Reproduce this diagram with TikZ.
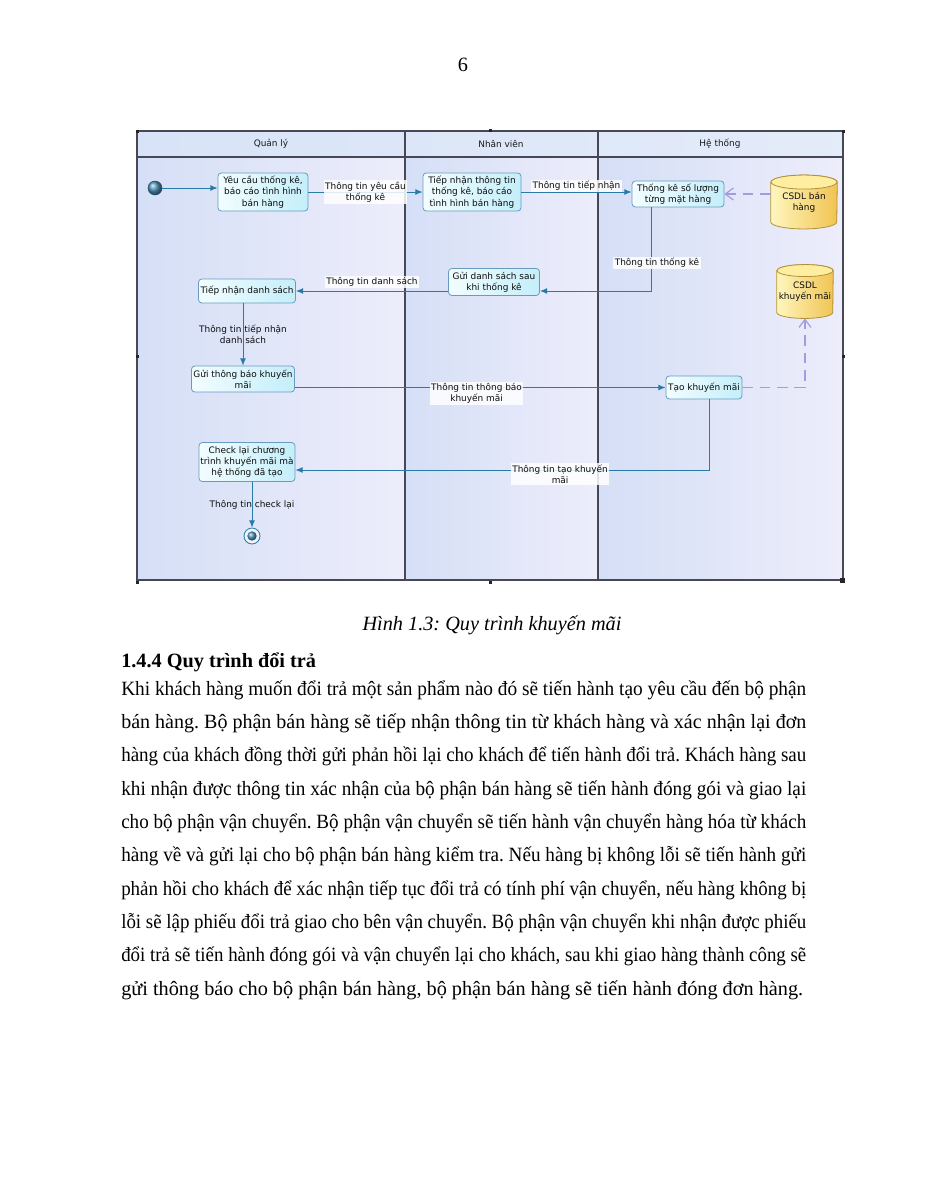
\documentclass[tikz,border=0pt]{standalone}
\usepackage{fontspec}
\setmainfont{Liberation Serif}
\newfontfamily\dgfont{DejaVu Sans}
\usetikzlibrary{arrows.meta,calc}
\pgfdeclarelayer{lanes}
\pgfdeclarelayer{cyl}
\pgfsetlayers{lanes,cyl,main}
\definecolor{lanel}{RGB}{213,223,246}
\definecolor{laner}{RGB}{237,237,251}
\definecolor{hdrc}{RGB}{216,227,247}
\definecolor{frame}{RGB}{70,72,85}
\definecolor{flowc}{RGB}{40,122,168}
\definecolor{nodeb}{RGB}{105,155,192}
\definecolor{nodel}{RGB}{242,253,255}
\definecolor{noder}{RGB}{196,238,250}
\definecolor{dashc}{RGB}{165,155,222}
\definecolor{dbl}{RGB}{255,246,190}
\definecolor{dbr}{RGB}{240,196,82}
\definecolor{dbtop}{RGB}{255,238,160}
\definecolor{dbb}{RGB}{175,145,60}
\newsavebox\jbox
\newcommand\jline[3]{\node[bodytext, anchor=base west] (#1) at (121,#2) {\sbox\jbox{#3}\ifdim\wd\jbox>513.75pt\relax\resizebox{513.75pt}{\height}{\usebox\jbox}\else\makebox[513.75pt][s]{#3}\fi};}
\begin{document}
\frenchspacing
\begin{tikzpicture}[x=0.75pt,y=-0.75pt,
  dg/.style={font=\dgfont\fontsize{6.7}{8.4}\selectfont},
  actbox/.style={dg, draw=nodeb, line width=0.6pt, rounded corners=2.5pt, left color=nodel, right color=noder, align=center, inner sep=1pt, text=black!95},
  lbl/.style={dg, fill=white, fill opacity=0.85, text opacity=1, inner sep=1pt, align=center, text=black!95},
  plainlbl/.style={dg, inner sep=1pt, align=center, text=black!95},
  flow/.style={draw=flowc, line width=0.75pt, -{Latex[length=5.5pt,width=4.5pt]}},
  dflow/.style={draw=dashc, line width=0.9pt, dash pattern=on 8pt off 5pt, -{Straight Barb[length=6pt,width=9pt]}},
  laneline/.style={draw=frame, line width=0.8pt},
  lanetext/.style={dg, text=black!90},
  dbbox/.style={dg, minimum width=#1, minimum height=40pt, align=center, inner sep=0pt, text=black!95},
  bodytext/.style={font=\fontsize{15.2}{25}\selectfont, inner sep=0pt, text=black},
  handle/.style={fill=black!85}
]
\useasboundingbox (0,0) rectangle (927,1200);

% ---------- lanes ----------
\begin{pgfonlayer}{lanes}
\fill[white] (0,0) rectangle (927,1200);
\shade[left color=lanel, right color=laner] (137,157) rectangle (405,580);
\shade[left color=lanel, right color=laner] (405,157) rectangle (598,580);
\shade[left color=lanel, right color=laner] (598,157) rectangle (843,580);
\shade[left color=hdrc, right color=hdrc!70!white] (137,131) rectangle (843,157);
\draw[laneline] (137,131) rectangle (843,580);
\draw[laneline] (137,157) -- (843,157);
\draw[laneline] (405,131) -- (405,580);
\draw[laneline] (598,131) -- (598,580);
\end{pgfonlayer}
\node[lanetext] (h1) at (271,144) {Quản lý};
\node[lanetext] (h2) at (501,144) {Nhân viên};
\node[lanetext] (h3) at (720,144) {Hệ thống};

% selection handles
\foreach \hx/\hy in {137/131,490/130,843/131,137/356,843/356,137/582,490/582}
  \fill[handle] (\hx-1.5,\hy-1.5) rectangle (\hx+1.5,\hy+1.5);
\fill[handle] (840,578) rectangle (845,583);

% ---------- nodes ----------
\node[circle, minimum size=10.5pt, inner sep=0pt, draw=flowc!70!black, line width=0.4pt, ball color=flowc!80!white] (init) at (155,188) {};
\node[actbox, minimum width=67.5pt, minimum height=28.5pt] (A) at (263,192) {Yêu cầu thống kê,\\báo cáo tình hình\\bán hàng};
\node[actbox, minimum width=73.5pt, minimum height=28.5pt] (B) at (472,192) {Tiếp nhận thông tin\\thống kê, báo cáo\\tình hình bán hàng};
\node[actbox, minimum width=69pt, minimum height=19.5pt] (C) at (678,194) {Thống kê số lượng\\từng mặt hàng};
\node[dbbox=49.5pt] (db1) at (804,202) {CSDL bán\\hàng};
\node[actbox, minimum width=68.25pt, minimum height=20.25pt] (D) at (494,282) {Gửi danh sách sau\\khi thống kê};
\node[actbox, minimum width=72.75pt, minimum height=18pt] (E) at (247,291) {Tiếp nhận danh sách};
\node[dbbox=42pt] (db2) at (805,291.5) {CSDL\\khuyến mãi};
\node[actbox, minimum width=77.25pt, minimum height=19.5pt] (F) at (243,379) {Gửi thông báo khuyến\\mãi};
\node[actbox, minimum width=57pt, minimum height=17.25pt] (G) at (704,387.5) {Tạo khuyến mãi};
\node[actbox, minimum width=70.5pt, minimum height=29.25pt] (H) at (247,462) {Check lại chương\\trình khuyến mãi mà\\hệ thống đã tạo};
\node[circle, minimum size=12pt, inner sep=0pt, draw=flowc, line width=0.6pt, fill=white!60!lanel] (final) at (252,536) {};
\node[circle, minimum size=7pt, inner sep=0pt, ball color=flowc!80!white] (finalin) at (final.center) {};

% ---------- cylinders ----------
\begin{pgfonlayer}{cyl}
\path[draw=dbb, line width=0.6pt, left color=dbl, right color=dbr]
  ([yshift=-5.25pt]db1.north west) -- ([yshift=5.25pt]db1.south west)
  arc[start angle=180, end angle=360, x radius=24.75pt, y radius=5.25pt]
  -- ([yshift=-5.25pt]db1.north east)
  arc[start angle=0, end angle=180, x radius=24.75pt, y radius=5.25pt] -- cycle;
\path[draw=dbb, line width=0.6pt, fill=dbtop] ([yshift=-5.25pt]db1.north) ellipse[x radius=24.75pt, y radius=5.25pt];
\path[draw=dbb, line width=0.6pt, left color=dbl, right color=dbr]
  ([yshift=-4.5pt]db2.north west) -- ([yshift=4.5pt]db2.south west)
  arc[start angle=180, end angle=360, x radius=21pt, y radius=4.5pt]
  -- ([yshift=-4.5pt]db2.north east)
  arc[start angle=0, end angle=180, x radius=21pt, y radius=4.5pt] -- cycle;
\path[draw=dbb, line width=0.6pt, fill=dbtop] ([yshift=-4.5pt]db2.north) ellipse[x radius=21pt, y radius=4.5pt];
\end{pgfonlayer}

% ---------- connectors ----------
\draw[flow] (init.east) -- (init -| A.west);
\draw[flow] (A.east) -- (B.west) node[lbl, midway] {Thông tin yêu cầu\\thống kê};
\draw[flow] (B.east) -- (B.east -| C.west) node[lbl, midway, yshift=4.5pt] {Thông tin tiếp nhận};
\draw[dflow] (db1.west |- C.east) -- (C.east);
\draw[flow] ([xshift=-20.25pt]C.south) |- ([yshift=-6.75pt]D.east) node[lbl, pos=0.33, xshift=4.5pt] {Thông tin thống kê};
\draw[flow] (D.west |- E) -- (E.east) node[lbl, midway, yshift=6.75pt] {Thông tin danh sách};
\draw[flow] (F.north |- E.south) -- (F.north) node[plainlbl, midway] {Thông tin tiếp nhận\\danh sách};
\draw[flow] (F.east |- G) -- (G.west) node[lbl, pos=0.49, yshift=-4.5pt] {Thông tin thông báo\\khuyến mãi};
\draw[dflow] (G.east) -| (db2.south);
\draw[flow] ([xshift=3.75pt]G.south) |- ([yshift=-6pt]H.east) node[lbl, pos=0.68, yshift=-3pt] {Thông tin tạo khuyến\\mãi};
\draw[flow] (final.north |- H.south) -- (final.north) node[plainlbl, midway] {Thông tin check lại};

% ---------- page text ----------
\node[bodytext, anchor=base] (pnum) at (463,71) {6};
\node[bodytext, anchor=base] (cap) at (492,630) {\itshape Hình 1.3: Quy trình khuyến mãi};
\node[bodytext, anchor=base west] (head) at (121,667) {\bfseries 1.4.4 Quy trình đổi trả};
\jline{p1}{695}{Khi khách hàng muốn đổi trả một sản phẩm nào đó sẽ tiến hành tạo yêu cầu đến bộ phận}
\jline{p2}{728.3}{bán hàng. Bộ phận bán hàng sẽ tiếp nhận thông tin từ khách hàng và xác nhận lại đơn}
\jline{p3}{761.7}{hàng của khách đồng thời gửi phản hồi lại cho khách để tiến hành đổi trả. Khách hàng sau}
\jline{p4}{795}{khi nhận được thông tin xác nhận của bộ phận bán hàng sẽ tiến hành đóng gói và giao lại}
\jline{p5}{828.3}{cho bộ phận vận chuyển. Bộ phận vận chuyển sẽ tiến hành vận chuyển hàng hóa từ khách}
\jline{p6}{861.7}{hàng về và gửi lại cho bộ phận bán hàng kiểm tra. Nếu hàng bị không lỗi sẽ tiến hành gửi}
\jline{p7}{895}{phản hồi cho khách để xác nhận tiếp tục đổi trả có tính phí vận chuyển, nếu hàng không bị}
\jline{p8}{928.3}{lỗi sẽ lập phiếu đổi trả giao cho bên vận chuyển. Bộ phận vận chuyển khi nhận được phiếu}
\jline{p9}{961.7}{đổi trả sẽ tiến hành đóng gói và vận chuyển lại cho khách, sau khi giao hàng thành công sẽ}
\node[bodytext, anchor=base west] (p10) at (121,995) {gửi thông báo cho bộ phận bán hàng, bộ phận bán hàng sẽ tiến hành đóng đơn hàng.};
\end{tikzpicture}
\end{document}
